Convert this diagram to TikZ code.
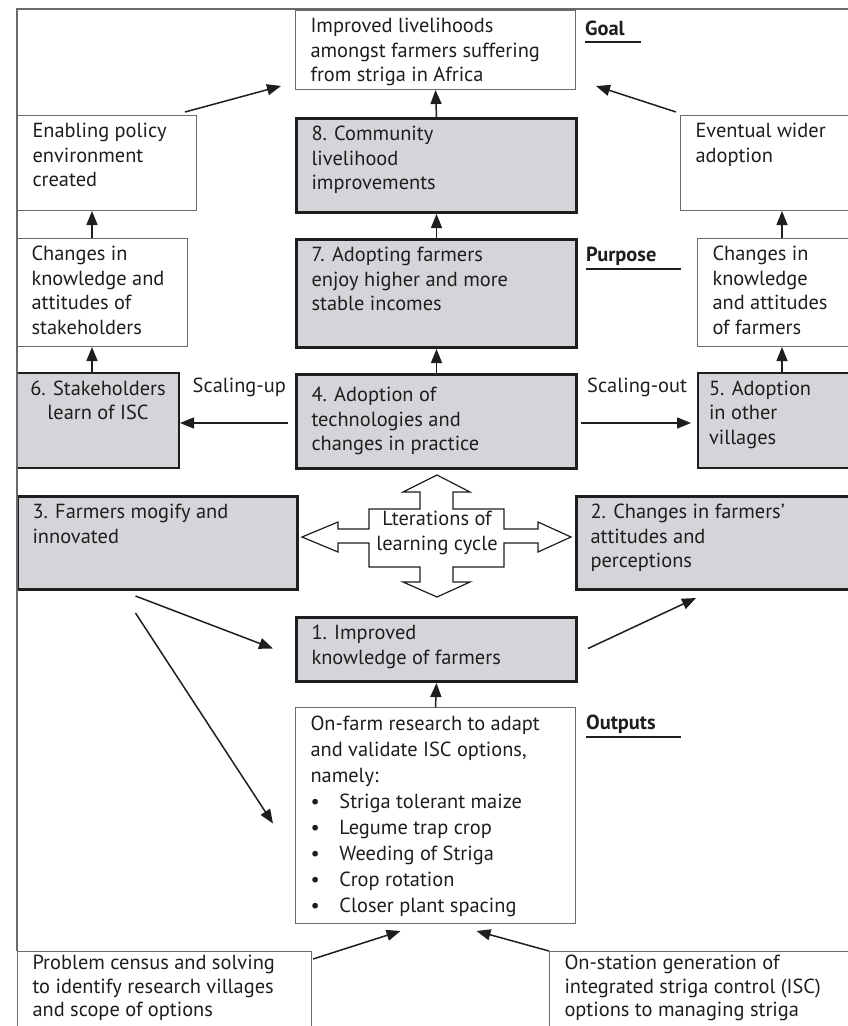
\documentclass[tikz,border=0pt]{standalone}
\usepackage{fontspec}
\setmainfont{PT Sans}
\usetikzlibrary{arrows.meta}
\definecolor{boxgray}{HTML}{D4D5D8}
\definecolor{ink}{HTML}{1E1E1E}
\definecolor{thinline}{HTML}{6A6A6A}
\newcommand{\bt}[4]{\parbox[t][\dimexpr#2pt-10pt\relax][t]{\dimexpr#1pt-30pt\relax}{\begin{tabular}[t]{@{}#3@{}}#4\end{tabular}}}
\begin{document}
\begin{tikzpicture}[x=1pt,y=-1pt,
  font=\fontsize{20.4}{24.5}\selectfont,
  wbox/.style={draw=thinline, line width=1pt, fill=white, anchor=north west, inner xsep=15pt, inner ysep=5pt, text=ink},
  gbox/.style={wbox, draw=ink, line width=3pt, fill=boxgray},
  mbox/.style={gbox, line width=2pt},
  arr/.style={draw=ink, line width=1.5pt, -{Triangle[length=14pt,width=11pt]}},
  lab/.style={anchor=west, inner sep=0pt, text=ink},
  ul/.style={draw=ink, line width=2pt},
  frame/.style={draw=thinline, line width=1.3pt}]
\useasboundingbox (0,0) rectangle (847,1026);

% boxes
\node[wbox] (goal) at (295,10) {\bt{280}{79}{l}{Improved livelihoods\\amongst farmers suffering\\from striga in Africa}};
\node[wbox] (policy) at (17,115) {\bt{179}{95}{l}{Enabling policy\\environment\\created}};
\node[gbox] (b8) at (295,117) {\bt{280}{94}{l}{8. Community\\livelihood\\improvements}};
\node[wbox] (wider) at (680,115) {\bt{172}{95}{l}{Eventual wider\\adoption}};
\node[wbox] (stake) at (16,238) {\bt{171}{108}{l}{Changes in\\knowledge and\\attitudes of\\stakeholders}};
\node[gbox] (b7) at (295,238) {\bt{280}{108}{l}{7. Adopting farmers\\enjoy higher and more\\stable incomes}};
\node[wbox] (farm) at (697,238) {\bt{155}{108}{l}{Changes in\\knowledge\\and attitudes\\of farmers}};
\node[mbox, inner xsep=8pt] (b6) at (16,372) {\parbox[t][85pt][t]{146pt}{\centering\begin{tabular}[t]{@{}c@{}}6. Stakeholders\\learn of ISC\end{tabular}}};
\node[gbox] (b4) at (295,373) {\bt{280}{94}{l}{\rule{0pt}{22pt}4. Adoption of\\technologies and\\changes in practice}};
\node[mbox, inner xsep=11pt] (b5) at (697,372) {\parbox[t][85pt][t]{133pt}{\begin{tabular}[t]{@{}l@{}}5. Adoption\\in other\\villages\end{tabular}}};
\node[gbox] (b3) at (16,495) {\bt{280}{93}{l}{3. Farmers mogify and\\innovated}};
\node[gbox, inner xsep=14pt] (b2) at (575,495) {\bt{277}{93}{l}{2. Changes in farmers'\\attitudes and\\perceptions}};
\node[gbox] (b1) at (295,616) {\bt{280}{64}{l}{1. Improved\\knowledge of farmers}};
\node[wbox] (out) at (295,707) {\parbox[t][206pt][t]{250pt}{\fontsize{20.4}{26}\selectfont\begin{tabular}[t]{@{}l@{}}On-farm research to adapt\\and validate ISC options,\\namely:\\
\makebox[29pt][l]{\textbullet}Striga tolerant maize\\
\makebox[29pt][l]{\textbullet}Legume trap crop\\
\makebox[29pt][l]{\textbullet}Weeding of Striga\\
\makebox[29pt][l]{\textbullet}Crop rotation\\
\makebox[29pt][l]{\textbullet}Closer plant spacing\end{tabular}}};
\node[wbox, inner ysep=2pt] (prob) at (17,951) {\parbox[t][71pt][t]{264pt}{\fontsize{20.4}{23.5}\selectfont\begin{tabular}[t]{@{}l@{}}Problem census and solving\\to identify research villages\\and scope of options\end{tabular}}};
\node[wbox, inner ysep=2pt] (onst) at (549,951) {\parbox[t][71pt][t]{273pt}{\fontsize{20.4}{23.5}\selectfont\begin{tabular}[t]{@{}l@{}}On-station generation of\\integrated striga control (ISC)\\options to managing striga\end{tabular}}};

% outer frame
\coordinate (ftl) at (15,9);
\coordinate (ftr) at (852,9);
\draw[frame] (prob.north west) -- (prob.north west |- ftl) -- (ftr);

% section labels
\node[lab] (goalL) at (585,28) {\textbf{Goal}};
\draw[ul] (585,42) -- (641,42);
\node[lab] (purpL) at (586,256) {\textbf{Purpose}};
\draw[ul] (586,269) -- (681,269);
\node[lab] (outL) at (586,724) {\textbf{Outputs}};
\draw[ul] (586,737) -- (681,737);
\node[lab, anchor=east] (sup) at (286,387) {Scaling-up};
\node[lab] (sout) at (587,387) {Scaling-out};

% learning cycle cross
\draw[draw=ink, line width=1.2pt, fill=white, line join=miter]
 (437,475) -- (470,492) -- (453,492) -- (453,509) -- (504,509) -- (504,529) -- (538,529) -- (538,522) -- (571,537) -- (538,552) -- (538,543) -- (504,543) -- (504,567) -- (453,567) -- (453,582) -- (470,582) -- (437,597) -- (403,582) -- (420,582) -- (420,567) -- (369,567) -- (369,543) -- (338,543) -- (338,552) -- (302,537) -- (338,522) -- (338,529) -- (369,529) -- (369,509) -- (420,509) -- (420,492) -- (403,492) -- cycle;
\node[align=center, text=ink, inner sep=0pt] (cyc) at (437,533) {Lterations of\\learning cycle};

% connectors
\coordinate (xL) at (92,0);
\coordinate (xR) at (782,0);
\coordinate (yh) at (0,423);
\draw[arr] ([shift={(-12,-3)}]policy.north east) -- ([shift={(-14,-4)}]goal.south west);
\draw[arr] (b8.north) -- (goal.south);
\draw[arr] ([shift={(-4,-3)}]wider.north west) -- ([shift={(20,-4)}]goal.south east);
\draw[arr] (stake.north -| xL) -- (policy.south -| xL);
\draw[arr] (b7.north) -- (b8.south);
\draw[arr] (farm.north -| xR) -- (wider.south -| xR);
\draw[arr] (b6.north -| xL) -- (stake.south -| xL);
\draw[arr] (b4.north) -- (b7.south);
\draw[arr] (b5.north -| xR) -- (farm.south -| xR);
\draw[arr] ([xshift=-7]b4.west |- yh) -- (b6.east |- yh);
\draw[arr] ([xshift=3]b4.east |- yh) -- ([xshift=-6]b5.west |- yh);
\draw[arr] ([shift={(-22,5)}]b3.south) -- ([shift={(-22,-1)}]b1.west);
\draw[arr] ([shift={(-22,22)}]b3.south) -- ([shift={(-22,8)}]out.west);
\draw[arr] ([shift={(10,-1)}]b1.east) -- ([shift={(-18,7)}]b2.south);
\draw[arr] (out.north) -- (b1.south);
\draw[arr] ([shift={(1,8)}]prob.north east) -- ([shift={(-35,7)}]out.south);
\draw[arr] (onst.north west) -- ([shift={(41,7)}]out.south);
\end{tikzpicture}
\end{document}
